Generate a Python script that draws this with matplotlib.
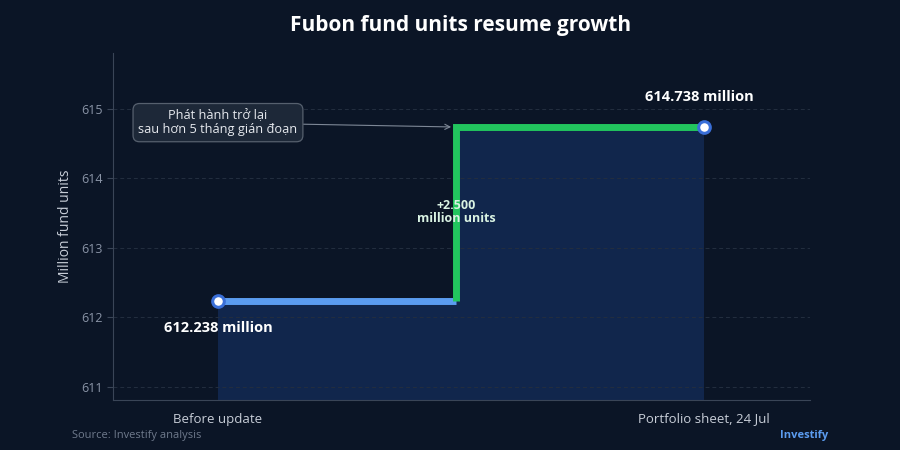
import matplotlib.pyplot as plt

plt.rcParams['font.family'] = ['Open Sans', 'DejaVu Sans']

categories = ['Before update', 'Portfolio sheet, 24 Jul']
units = [612.238, 614.738]
change_label = '+2.500\nmillion units'
value_labels = ['612.238 million', '614.738 million']
note = 'Phát hành trở lại\nsau hơn 5 tháng gián đoạn'

bg = '#0b1526'
step_x = 0.49  # where the jump is drawn

fig = plt.figure(figsize=(9, 4.5), dpi=100, facecolor=bg)
ax = fig.add_axes([0.1256, 0.111, 0.774, 0.771])
ax.set_facecolor(bg)

x0, x1 = 0, 1
ax.set_xlim(-0.216, 1.218)
ax.set_ylim(610.81, 615.8)

# area under the step
ax.fill_between([x0, step_x, step_x, x1], 610.81,
                [units[0], units[0], units[1], units[1]],
                color='#12284f', alpha=0.95, zorder=1, linewidth=0)

ax.grid(axis='y', color='#232e3f', linestyle=(0, (4, 3)), linewidth=0.7, zorder=0)

ax.plot([x0, step_x], [units[0], units[0]], color='#5b9cf0', linewidth=5,
        solid_capstyle='butt', zorder=3)
ax.plot([step_x, step_x, x1], [units[0], units[1], units[1]], color='#22c55e',
        linewidth=5, solid_capstyle='butt', solid_joinstyle='miter', zorder=3)
ax.scatter([x0, x1], units, s=70, color='white', edgecolor='#3a6fd8',
           linewidth=2.2, zorder=5)

ax.text(x0, units[0] - 0.39, value_labels[0], color='white', fontsize=10.5,
        fontweight='bold', ha='center', va='center', zorder=6)
ax.text(x1 - 0.01, units[1] + 0.43, value_labels[1], color='white', fontsize=10.5,
        fontweight='bold', ha='center', va='center', zorder=6)
ax.text(step_x, 613.52, change_label, color='#d9f2e2', fontsize=9,
        fontweight='bold', ha='center', va='center', linespacing=1.0, zorder=6)

ax.annotate(note, xy=(step_x - 0.01, units[1]), xytext=(0.0, 614.8),
            color='#e6e9ee', fontsize=9.2, ha='center', va='center',
            linespacing=1.15, zorder=7,
            bbox=dict(boxstyle='round,pad=0.42,rounding_size=0.5',
                      facecolor='#1d2838', edgecolor='#56606e', linewidth=0.9),
            arrowprops=dict(arrowstyle='->', color='#7d8796', linewidth=0.8,
                            shrinkA=0, shrinkB=0))

ax.set_xticks([x0, x1])
ax.set_xticklabels(categories)
ax.set_yticks([611, 612, 613, 614, 615])
ax.tick_params(axis='x', length=0, colors='#c8ced8', labelsize=9.5, pad=9)
ax.tick_params(axis='y', length=4, color='#3a4557', colors='#8a94a6', labelsize=9)
ax.set_ylabel('Million fund units', color='#c8ced8', fontsize=10, labelpad=6)

for s in ['top', 'right']:
    ax.spines[s].set_visible(False)
for s in ['left', 'bottom']:
    ax.spines[s].set_color('#3a4557')

fig.text(0.512, 0.944, 'Fubon fund units resume growth', color='white',
         fontsize=15, fontweight='bold', ha='center', va='center')
fig.text(0.08, 0.033, 'Source: Investify analysis', color='#6f7a8c',
         fontsize=8, ha='left', va='center')
fig.text(0.92, 0.033, 'Investify', color='#5b9cf0', fontsize=8,
         fontweight='bold', ha='right', va='center')

fig.savefig('out.png', dpi=100, facecolor=bg)
